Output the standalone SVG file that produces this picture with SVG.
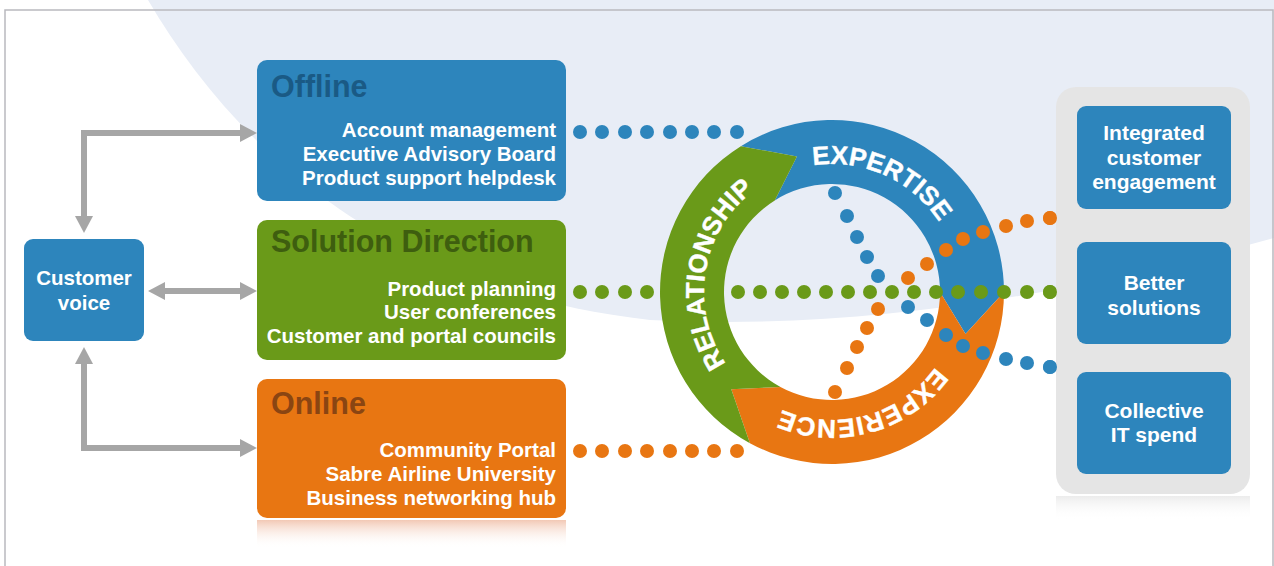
<svg xmlns="http://www.w3.org/2000/svg" width="1274" height="566" viewBox="0 0 1274 566">
<style>
text{font-family:"Liberation Sans",Arial,sans-serif;font-weight:bold}
.body{font-size:20.5px;fill:#fff;text-anchor:end}
.ttl{font-size:30.5px}
.ctr{font-size:21px;fill:#fff;text-anchor:middle}
.ring{font-size:26px;fill:#fff;stroke:#fff;stroke-width:0.4}
.b{fill:#2D85BC}
.g{fill:#6A9A19}
.o{fill:#E87612}
.arr{fill:none;stroke:#A6A6A6;stroke-width:6;marker-start:url(#ah);marker-end:url(#ah)}
</style>
<defs>
<marker id="ah" viewBox="0 0 17 18" refX="11" refY="9" markerWidth="17" markerHeight="18" markerUnits="userSpaceOnUse" orient="auto-start-reverse">
<path d="M0,0 L17,9 L0,18 Z" fill="#A6A6A6"/>
</marker>
<linearGradient id="refO" x1="0" y1="0" x2="0" y2="1">
<stop offset="0" stop-color="#F0BFA8" stop-opacity="0.85"/>
<stop offset="1" stop-color="#FFFFFF" stop-opacity="0"/>
</linearGradient>
<linearGradient id="refG" x1="0" y1="0" x2="0" y2="1">
<stop offset="0" stop-color="#ECECEC" stop-opacity="1"/>
<stop offset="1" stop-color="#FFFFFF" stop-opacity="0"/>
</linearGradient>
<path id="pExp" d="M813.08,165.41 A128,128 0 0 1 939.96,223.23"/>
<path id="pRel" d="M725.89,363.58 A128,128 0 0 1 754.97,189.78"/>
<path id="pExi" d="M935.55,367.24 A128,128 0 0 1 779.9,408.9"/>
</defs>

<rect width="1274" height="566" fill="#fff"/>
<path d="M148,0 C230,140 380,290 650,320 C850,330 1050,300 1274,238 L1274,0 Z" fill="#E8EDF6"/>
<rect x="5" y="10" width="1268" height="580" fill="none" stroke="#B9B9BE" stroke-width="1.5"/>

<g id="connectors">
<path class="arr" d="M84,227 V133 H251"/>
<path class="arr" d="M154,291 H251"/>
<path class="arr" d="M84,353 V448 H251"/>
<g class="b">
<circle cx="580" cy="132" r="7"/><circle cx="602" cy="132" r="7"/><circle cx="625" cy="132" r="7"/><circle cx="647" cy="132" r="7"/><circle cx="670" cy="132" r="7"/><circle cx="692" cy="132" r="7"/><circle cx="714" cy="132" r="7"/><circle cx="737" cy="132" r="7"/>
</g>
<g class="o">
<circle cx="580" cy="451" r="7"/><circle cx="602" cy="451" r="7"/><circle cx="625" cy="451" r="7"/><circle cx="647" cy="451" r="7"/><circle cx="670" cy="451" r="7"/><circle cx="692" cy="451" r="7"/><circle cx="714" cy="451" r="7"/><circle cx="737" cy="451" r="7"/>
</g>
<g class="g">
<circle cx="580" cy="292" r="7"/><circle cx="602" cy="292" r="7"/><circle cx="625" cy="292" r="7"/><circle cx="647" cy="292" r="7"/>
</g>
</g>

<g id="cycle">
<path class="b" d="M740.86,146.14 A172,172 0 0 1 1004,292 L965.52,334.10 L940,292 A108,108 0 0 0 774.77,200.42 L796.94,156.47 Z"/>
<path class="o" d="M1004,292 A172,172 0 0 1 749.92,443.15 L731.30,389.26 L780.46,386.91 A108,108 0 0 0 940,292 L965.52,334.10 Z"/>
<path class="g" d="M749.92,443.15 A172,172 0 0 1 740.86,146.14 L796.94,156.47 L774.77,200.42 A108,108 0 0 0 780.46,386.91 L731.30,389.26 Z"/>
<text class="ring"><textPath href="#pExp" textLength="146" lengthAdjust="spacing">EXPERTISE</textPath></text>
<text class="ring"><textPath href="#pRel" textLength="193" lengthAdjust="spacing">RELATIONSHIP</textPath></text>
<text class="ring"><textPath href="#pExi" textLength="172" lengthAdjust="spacing">EXPERIENCE</textPath></text>
</g>

<g id="dots-cross">
<g class="b">
<circle cx="835" cy="193" r="7"/><circle cx="847" cy="216" r="7"/><circle cx="857" cy="237" r="7"/><circle cx="867" cy="257" r="7"/><circle cx="878" cy="276" r="7"/><circle cx="908" cy="307" r="7"/><circle cx="927" cy="320" r="7"/><circle cx="946" cy="335" r="7"/><circle cx="963" cy="346" r="7"/><circle cx="983" cy="353" r="7"/><circle cx="1006" cy="359" r="7"/><circle cx="1027" cy="363" r="7"/><circle cx="1050" cy="367" r="7"/>
</g>
<g class="o">
<circle cx="835" cy="392" r="7"/><circle cx="847" cy="368" r="7"/><circle cx="857" cy="347" r="7"/><circle cx="867" cy="328" r="7"/><circle cx="878" cy="309" r="7"/><circle cx="908" cy="278" r="7"/><circle cx="927" cy="264" r="7"/><circle cx="946" cy="250" r="7"/><circle cx="963" cy="239" r="7"/><circle cx="983" cy="232" r="7"/><circle cx="1006" cy="226" r="7"/><circle cx="1027" cy="221" r="7"/><circle cx="1050" cy="218" r="7"/>
</g>
<g class="g">
<circle cx="738" cy="292" r="7"/><circle cx="760" cy="292" r="7"/><circle cx="782" cy="292" r="7"/><circle cx="804" cy="292" r="7"/><circle cx="826" cy="292" r="7"/><circle cx="848" cy="292" r="7"/><circle cx="870" cy="292" r="7"/><circle cx="892" cy="292" r="7"/><circle cx="914" cy="292" r="7"/><circle cx="936" cy="292" r="7"/><circle cx="958" cy="292" r="7"/><circle cx="981" cy="292" r="7"/><circle cx="1004" cy="292" r="7"/><circle cx="1027" cy="292" r="7"/><circle cx="1050" cy="292" r="7"/>
</g>
</g>

<g id="customer-voice">
<rect class="b" x="24" y="239" width="120" height="102" rx="9"/>
<text class="ctr" x="84" y="285" style="font-size:20.5px">Customer</text>
<text class="ctr" x="84" y="310" style="font-size:20.5px">voice</text>
</g>

<g id="offline">
<rect class="b" x="257" y="60" width="309" height="141" rx="10"/>
<text class="ttl" x="271" y="97" fill="#1A5A85">Offline</text>
<text class="body" x="556" y="137">Account management</text>
<text class="body" x="556" y="161">Executive Advisory Board</text>
<text class="body" x="556" y="185">Product support helpdesk</text>
</g>

<g id="solution-direction">
<rect class="g" x="257" y="220" width="309" height="140" rx="10"/>
<text class="ttl" x="271" y="252" fill="#3E5E0F">Solution Direction</text>
<text class="body" x="556" y="296">Product planning</text>
<text class="body" x="556" y="319">User conferences</text>
<text class="body" x="556" y="343">Customer and portal councils</text>
</g>

<g id="online">
<path d="M257,520 H566 V548 H257 Z" fill="url(#refO)"/>
<rect class="o" x="257" y="379" width="309" height="139" rx="10"/>
<text class="ttl" x="271" y="414" fill="#8A4512">Online</text>
<text class="body" x="556" y="457">Community Portal</text>
<text class="body" x="556" y="481">Sabre Airline University</text>
<text class="body" x="556" y="505">Business networking hub</text>
</g>

<g id="outcomes">
<path d="M1056,496 H1250 V520 H1056 Z" fill="url(#refG)"/>
<rect x="1056" y="87" width="194" height="407" rx="20" fill="#E5E5E5"/>
</g>

<g id="integrated-customer-engagement">
<rect class="b" x="1077" y="106" width="154" height="103" rx="9"/>
<text class="ctr" x="1154" y="140">Integrated</text>
<text class="ctr" x="1154" y="165">customer</text>
<text class="ctr" x="1154" y="189">engagement</text>
</g>

<g id="better-solutions">
<rect class="b" x="1077" y="242" width="154" height="102" rx="9"/>
<text class="ctr" x="1154" y="290">Better</text>
<text class="ctr" x="1154" y="315">solutions</text>
</g>

<g id="collective-it-spend">
<rect class="b" x="1077" y="372" width="154" height="102" rx="9"/>
<text class="ctr" x="1154" y="418">Collective</text>
<text class="ctr" x="1154" y="442">IT spend</text>
</g>

<g id="edge-dots">
<circle class="o" cx="1050" cy="218" r="7"/>
<circle class="g" cx="1050" cy="292" r="7"/>
<circle class="b" cx="1050" cy="367" r="7"/>
</g>
</svg>
